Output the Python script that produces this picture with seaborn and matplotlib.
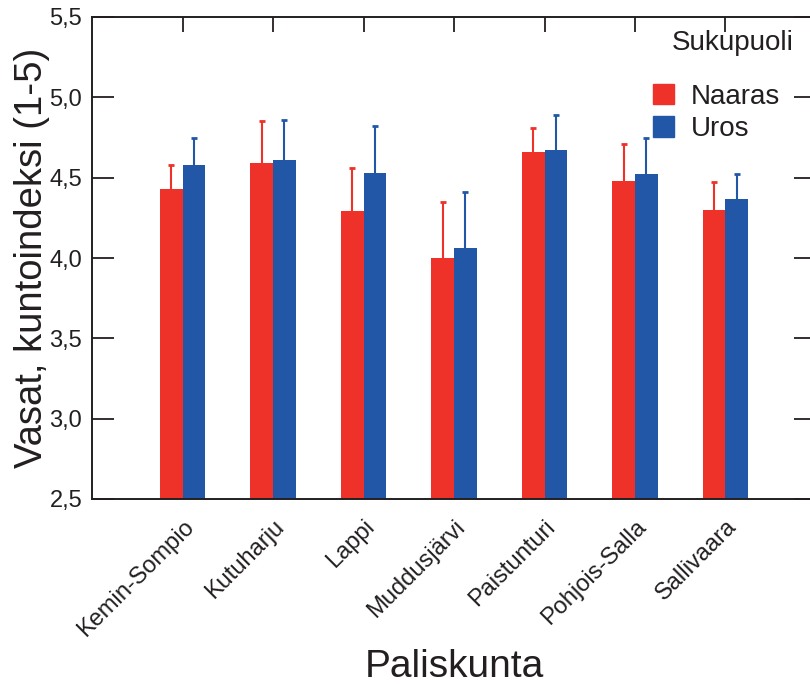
import matplotlib
matplotlib.use("Agg")
import matplotlib.pyplot as plt
import matplotlib.transforms as mtransforms
import numpy as np
import pandas as pd
import seaborn as sns

# Condition index of calves by herding cooperative and sex (mean + SD)
paliskunnat = ["Kemin-Sompio", "Kutuharju", "Lappi", "Muddusjärvi",
               "Paistunturi", "Pohjois-Salla", "Sallivaara"]
sukupuolet = ["Naaras", "Uros"]
naaras_ka = [4.43, 4.59, 4.29, 4.00, 4.66, 4.48, 4.30]
naaras_sd = [0.15, 0.26, 0.27, 0.35, 0.15, 0.23, 0.17]
uros_ka = [4.58, 4.61, 4.53, 4.06, 4.67, 4.52, 4.37]
uros_sd = [0.17, 0.25, 0.29, 0.35, 0.22, 0.23, 0.15]
y_ticks = [2.5, 3.0, 3.5, 4.0, 4.5, 5.0, 5.5]
y_ticklabels = ["2,5", "3,0", "3,5", "4,0", "4,5", "5,0", "5,5"]

varit = {"Naaras": "#EE3129", "Uros": "#2257A8"}

df = pd.DataFrame({
    "Paliskunta": paliskunnat * 2,
    "Sukupuoli": ["Naaras"] * len(paliskunnat) + ["Uros"] * len(paliskunnat),
    "kunto": naaras_ka + uros_ka,
    "sd": naaras_sd + uros_sd,
})

sns.set_theme(style="white")
plt.rcParams["font.family"] = ["Liberation Sans", "DejaVu Sans"]
tumma = "#231F20"
plt.rcParams["text.color"] = tumma
plt.rcParams["axes.labelcolor"] = tumma
plt.rcParams["xtick.color"] = tumma
plt.rcParams["ytick.color"] = tumma

fig = plt.figure(figsize=(8.1, 6.84), dpi=100)
W, H = 810, 684
ax = fig.add_axes([92 / W, (H - 499) / H, (816 - 92) / W, (499 - 17) / H])

sns.barplot(data=df, x="Paliskunta", y="kunto", hue="Sukupuoli",
            order=paliskunnat, hue_order=sukupuolet, palette=varit,
            width=0.5, errorbar=None, saturation=1, legend=False, ax=ax,
            edgecolor="none")

# Upper-only error bars (stem + cap) at the centre of each drawn bar
cap_half = 0.035
for cont, sp in zip(ax.containers, sukupuolet):
    sub = df[df["Sukupuoli"] == sp].set_index("Paliskunta").loc[paliskunnat]
    xs = np.array([p.get_x() + p.get_width() / 2 for p in cont.patches])
    top = sub["kunto"].values + sub["sd"].values
    ax.vlines(xs, sub["kunto"].values, top, color=varit[sp],
              linewidth=1.5, zorder=0.5)
    ax.hlines(top, xs - cap_half, xs + cap_half, color=varit[sp],
              linewidth=2.0, zorder=0.5)

ax.set_xlim(-1, len(paliskunnat))
ax.set_ylim(2.5, 5.5)
ax.set_yticks(y_ticks)
ax.set_yticklabels(y_ticklabels, fontsize=17)
ax.set_xticks(range(len(paliskunnat)))
ax.set_xticklabels(paliskunnat, fontsize=17, rotation=45, ha="right",
                   rotation_mode="anchor")
shift = mtransforms.ScaledTranslation(7 / 100, 0, fig.dpi_scale_trans)
for lab in ax.get_xticklabels():
    lab.set_transform(lab.get_transform() + shift)

ax.tick_params(axis="y", direction="in", length=16, width=1.3,
               left=True, right=True, pad=7)
ax.tick_params(axis="x", direction="in", length=11, width=1.3,
               top=True, bottom=False, pad=12)

for s in ax.spines.values():
    s.set_visible(True)
    s.set_linewidth(1.4)
    s.set_color(tumma)

ax.set_xlabel("Paliskunta", fontsize=28, labelpad=6)
ax.set_ylabel("Vasat, kuntoindeksi (1-5)", fontsize=27.5, labelpad=0)

# Legend: title placed as its own text, entries below it
fig.text(672 / W, 1 - 30 / H, "Sukupuoli", fontsize=20, ha="left", va="top")
handles = [plt.Rectangle((0, 0), 1, 1, color=varit[s]) for s in sukupuolet]
ax.legend(handles, sukupuolet, frameon=False,
          fontsize=20, loc="upper left",
          bbox_to_anchor=(647 / W, 1 - 78 / H),
          bbox_transform=fig.transFigure,
          handlelength=0.78, handleheight=0.78, handletextpad=0.6,
          labelspacing=0.22, borderpad=0.2, borderaxespad=0)

fig.savefig("out.png", dpi=100)
